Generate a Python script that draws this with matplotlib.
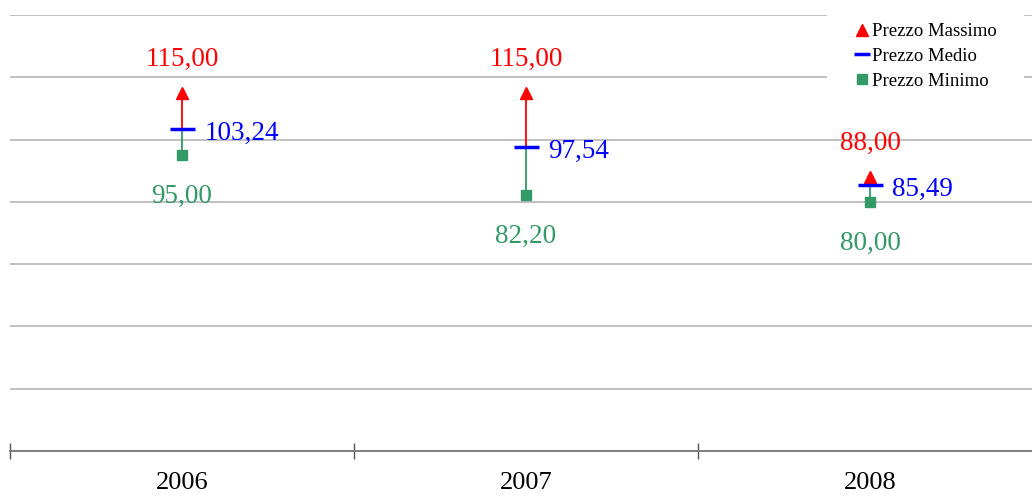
import matplotlib.pyplot as plt
from matplotlib.lines import Line2D

years = ['2006', '2007', '2008']
prezzo_max = [115.00, 115.00, 88.00]
prezzo_medio = [103.24, 97.54, 85.49]
prezzo_min = [95.00, 82.20, 80.00]

RED = '#ff0000'
BLUE = '#0000ff'
GREEN = '#339966'


def fmt(v):
    return '{:.2f}'.format(v).replace('.', ',')


def plot_prezzi():
    plt.rcParams['font.family'] = ['Liberation Serif', 'DejaVu Serif']
    fig = plt.figure(figsize=(10.32, 4.97), dpi=100)
    # axes run past the right edge, the last category is cut off
    ax = fig.add_axes([10 / 1032, 46 / 497, 1032 / 1032, 436 / 497])

    xs = [i + 0.5 for i in range(len(years))]
    ax.set_xlim(0, len(years))
    ax.set_ylim(0, 140)

    for x, hi, mid, lo in zip(xs, prezzo_max, prezzo_medio, prezzo_min):
        ax.plot([x, x], [mid, hi], color=RED, lw=1.3, zorder=2)
        ax.plot([x, x], [lo, mid], color=GREEN, lw=1.3, zorder=2)

    ax.plot(xs, prezzo_max, ls='none', marker='^', ms=9, color=RED, zorder=3)
    ax.plot(xs, prezzo_min, ls='none', marker='s', ms=7, color=GREEN, zorder=3)
    ax.plot(xs, prezzo_medio, ls='none', marker='_', ms=18, mew=2.5, color=BLUE, zorder=4)

    for x, hi, mid, lo in zip(xs, prezzo_max, prezzo_medio, prezzo_min):
        ax.annotate(fmt(hi), (x, hi), xytext=(0, 24), textcoords='offset points',
                    ha='center', va='center', color=RED, fontsize=19.5)
        ax.annotate(fmt(mid), (x, mid), xytext=(16, -3), textcoords='offset points',
                    ha='left', va='center', color=BLUE, fontsize=19.5)
        ax.annotate(fmt(lo), (x, lo), xytext=(0, -30), textcoords='offset points',
                    ha='center', va='center', color=GREEN, fontsize=19.5)

    ax.set_yticks(range(0, 141, 20))
    ax.yaxis.grid(True, color='#bbbbbb', lw=1.3)
    ax.set_axisbelow(True)
    ax.tick_params(axis='y', length=0, labelleft=False)

    for sp in ('top', 'left', 'right'):
        ax.spines[sp].set_visible(False)
    ax.spines['bottom'].set_color('#777777')
    ax.spines['bottom'].set_linewidth(1.3)

    ax.set_xticks(range(len(years) + 1))
    ax.set_xticklabels([])
    ax.tick_params(axis='x', which='major', direction='inout', length=12,
                   width=1, color='#555555')
    ax.set_xticks(xs, minor=True)
    ax.set_xticklabels(years, minor=True)
    ax.tick_params(axis='x', which='minor', length=0, pad=15, labelsize=19)

    handles = [
        Line2D([], [], ls='none', marker='^', ms=9, color=RED),
        Line2D([], [], ls='none', marker='_', ms=11, mew=2.5, color=BLUE),
        Line2D([], [], ls='none', marker='s', ms=7, color=GREEN),
    ]
    fig.legend(handles, ['Prezzo Massimo', 'Prezzo Medio', 'Prezzo Minimo'],
               loc='upper right', bbox_to_anchor=(1024 / 1032, 1 + 4 / 497),
               fontsize=13.5, frameon=True, facecolor='white', edgecolor='none',
               framealpha=1, fancybox=False, handlelength=0.8, handletextpad=0.15,
               labelspacing=0.4, borderpad=1.45, borderaxespad=0)

    fig.savefig('out.png', dpi=100)


if __name__ == '__main__':
    plot_prezzi()
